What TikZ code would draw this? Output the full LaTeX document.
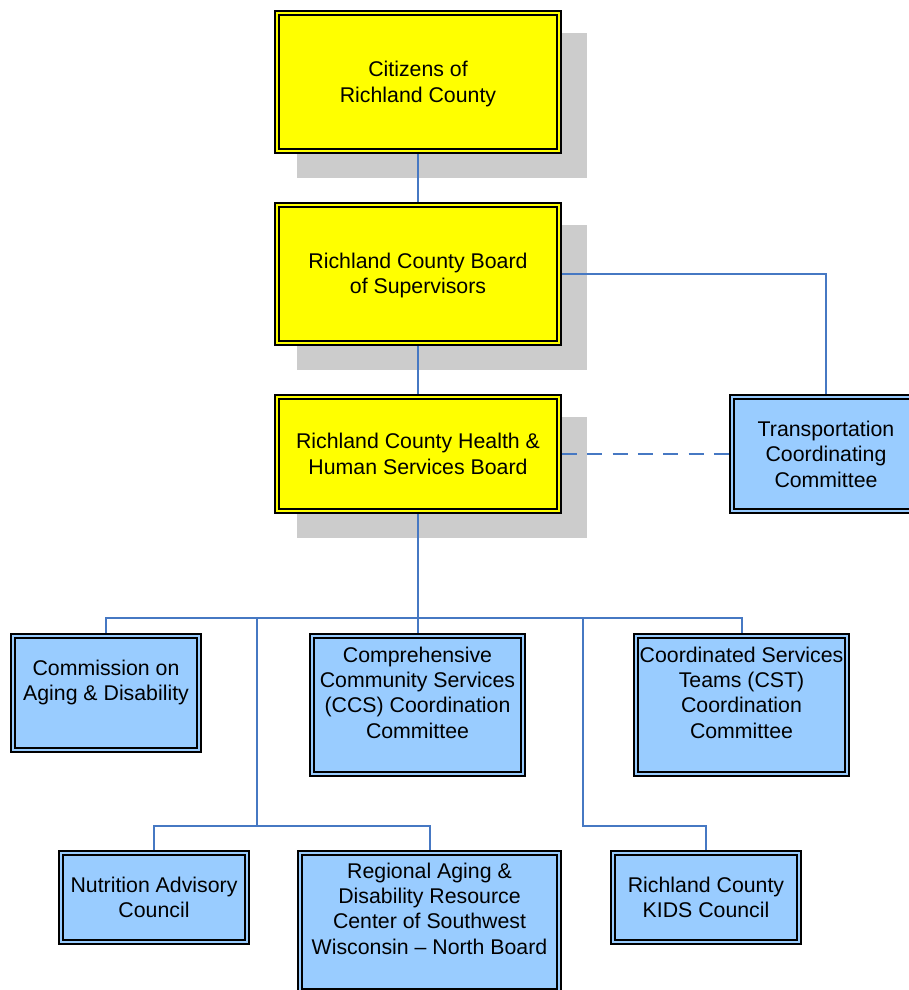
\documentclass[tikz,border=0pt]{standalone}
\usepackage{fontspec}
\setmainfont{Liberation Sans}
\usetikzlibrary{calc}
\pgfdeclarelayer{bg}
\pgfsetlayers{bg,main}
\definecolor{ybox}{RGB}{255,255,0}
\definecolor{bbox}{RGB}{153,204,255}
\definecolor{shadowc}{RGB}{204,204,204}
\definecolor{linec}{RGB}{70,120,195}
\tikzset{
  boxbase/.style={draw=black, line width=2pt, double distance=2pt, inner sep=0pt, outer sep=3pt,
    align=center, font=\fontsize{21.3}{25.4}\selectfont, text=black},
  yelbox/.style={boxbase, fill=ybox, double=ybox},
  blubox/.style={boxbase, fill=bbox, double=bbox},
  txt/.style={align=center, inner sep=0pt, font=\fontsize{21.3}{25.4}\selectfont, text=black},
  conn/.style={draw=linec, line width=2pt},
  dconn/.style={conn, dash pattern=on 15pt off 10.3pt},
  shad/.style={fill=shadowc}
}
\begin{document}
\begin{tikzpicture}[x=1pt,y=-1pt]
\useasboundingbox (0,0) rectangle (909,990);
\clip (0,0) rectangle (909,990);
% top chain
\node[yelbox, minimum width=282pt, minimum height=138pt] (cit) at (418,82) {};
\node[txt] (citT) at ([yshift=-2pt]cit.center) {Citizens of\\Richland County};
\node[yelbox, minimum width=282pt, minimum height=138pt] (bos) at (418,274) {};
\node[txt] (bosT) at ([yshift=-1.5pt]bos.center) {Richland County Board\\of Supervisors};
\node[yelbox, minimum width=282pt, minimum height=114pt] (hhs) at (418,454) {Richland County Health \&\\Human Services Board};
\node[blubox, minimum width=188pt, minimum height=114pt] (trans) at (826,454) {Transportation\\Coordinating\\Committee};
% second row
\node[blubox, minimum width=186pt, minimum height=114pt] (com) at (106,693) {};
\node[txt] (comT) at ([yshift=10.5pt]com.center) {Commission on\\Aging \& Disability};
\node[blubox, minimum width=211pt, minimum height=138pt] (ccs) at (417.5,705) {};
\node[txt] (ccsT) at ([yshift=12.5pt]ccs.center) {Comprehensive\\Community Services\\(CCS) Coordination\\Committee};
\node[blubox, minimum width=211pt, minimum height=138pt] (cst) at (741.5,705) {};
\node[txt] (cstT) at ([yshift=12.5pt]cst.center) {Coordinated Services\\Teams (CST)\\Coordination\\Committee};
% third row
\node[blubox, minimum width=186pt, minimum height=89pt] (nut) at (154,897.5) {Nutrition Advisory\\Council};
\node[blubox, minimum width=259pt, minimum height=138pt] (reg) at (429.5,922) {};
\node[txt] (regT) at ([yshift=13.5pt]reg.center) {Regional Aging \&\\Disability Resource\\Center of Southwest\\Wisconsin -- North Board};
\node[blubox, minimum width=186pt, minimum height=89pt] (kids) at (706,897.5) {Richland County\\KIDS Council};
% shadows
\begin{pgfonlayer}{bg}
\foreach \b in {cit,bos,hhs}{
  \fill[shad] ($(\b.north west)+(23,23)$) rectangle ($(\b.south east)+(25,24)$);
}
\end{pgfonlayer}
% connectors
\coordinate (bus) at (418,618);
\coordinate (bl) at (257,618);
\coordinate (bl2) at (257,826);
\coordinate (br) at (583,618);
\coordinate (br2) at (583,826);
\draw[conn] (cit.south) -- (bos.north);
\draw[conn] (bos.east) -| (trans.north);
\draw[conn] (bos.south) -- (hhs.north);
\draw[dconn] (hhs.east) -- (trans.west);
\draw[conn] (hhs.south) -- (hhs.south |- ccs.north);
\draw[conn] (com.north) -- (com.north |- bus) -- (cst.north |- bus) -- (cst.north);
\draw[conn] (bl) -- (bl2);
\draw[conn] (nut.north) -- (nut.north |- bl2) -- (reg.north |- bl2) -- (reg.north);
\draw[conn] (br) -- (br2) -| (kids.north);
\end{tikzpicture}
\end{document}
